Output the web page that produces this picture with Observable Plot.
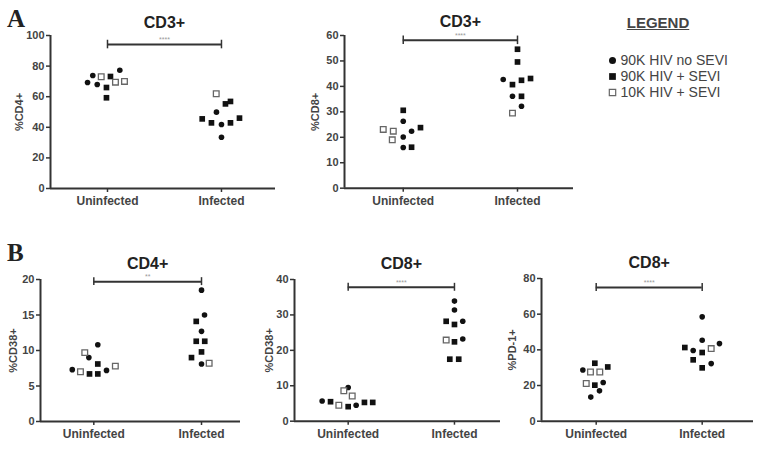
<!DOCTYPE html>
<html><head><meta charset="utf-8">
<script src="https://cdn.jsdelivr.net/npm/d3@7"></script>
<script src="https://cdn.jsdelivr.net/npm/@observablehq/plot@0.6"></script>
<style>
body{margin:0;background:#fff;}
#fig{position:relative;width:762px;height:450px;overflow:hidden;font-family:"Liberation Sans",Arial,sans-serif;background:#fff;}
#fig > *{position:absolute;}
.letter{font-family:"Liberation Serif","Times New Roman",serif;font-weight:bold;font-size:25px;line-height:25px;color:#222;}
.legtitle{font-weight:bold;font-size:15px;color:#444;text-decoration:underline;text-align:center;width:110px;}
</style></head><body><div id="fig"></div>
<script>
const groups = ["Uninfected", "Infected"];
const typeNames = ["90K HIV no SEVI", "90K HIV + SEVI", "10K HIV + SEVI"];
// marker type codes: 0 = filled circle, 1 = filled square, 2 = open square

// A (left): CD3+ / %CD4+
const cd3cd4UninfValues = [69.3, 73.9, 68.0, 73.0, 66.0, 59.3, 73.2, 77.3, 69.5, 70.0];
const cd3cd4UninfTypes  = [0, 0, 0, 2, 1, 1, 1, 0, 2, 2];
const cd3cd4UninfJitter = [-0.175, -0.129, -0.09, -0.055, -0.009, -0.009, 0.026, 0.108, 0.07, 0.149];
const cd3cd4InfValues = [61.9, 55.3, 56.9, 49.9, 45.5, 42.9, 41.8, 42.9, 46.0, 33.5];
const cd3cd4InfTypes  = [2, 1, 1, 0, 1, 1, 0, 1, 1, 0];
const cd3cd4InfJitter = [-0.046, 0.035, 0.079, -0.044, -0.169, -0.088, 0, 0.079, 0.158, 0];

// A (right): CD3+ / %CD8+
const cd3cd8UninfValues = [30.6, 26.3, 23.1, 22.4, 22.4, 23.8, 20.1, 19.0, 16.0, 16.1];
const cd3cd8UninfTypes  = [1, 0, 2, 2, 0, 1, 0, 2, 0, 1];
const cd3cd8UninfJitter = [0, 0, -0.175, -0.087, 0.073, 0.151, 0, -0.096, 0, 0.073];
const cd3cd8InfValues = [54.6, 49.6, 42.7, 40.7, 42.4, 43.1, 36.1, 36.1, 32.2, 29.5];
const cd3cd8InfTypes  = [1, 1, 0, 1, 1, 1, 0, 1, 0, 2];
const cd3cd8InfJitter = [0, 0, -0.125, -0.044, 0.035, 0.114, -0.044, 0.035, 0.035, -0.044];

// B (left): CD4+ / %CD38+
const cd4cd38UninfValues = [7.3, 7.0, 9.7, 9.0, 6.7, 10.8, 8.1, 6.7, 7.2, 7.8];
const cd4cd38UninfTypes  = [0, 2, 2, 0, 1, 0, 1, 1, 0, 2];
const cd4cd38UninfJitter = [-0.2, -0.124, -0.084, -0.046, -0.04, 0.037, 0.037, 0.037, 0.118, 0.2];
const cd4cd38InfValues = [18.5, 15.0, 14.1, 12.7, 11.3, 11.3, 9.8, 9.0, 8.1, 8.2];
const cd4cd38InfTypes  = [0, 0, 1, 0, 1, 1, 1, 1, 0, 2];
const cd4cd38InfJitter = [0, 0.028, -0.049, 0, -0.049, 0.03, 0, -0.093, 0, 0.071];

// B (middle): CD8+ / %CD38+
const cd8cd38UninfValues = [5.7, 5.5, 4.5, 4.1, 4.5, 5.3, 5.3, 9.5, 8.6, 7.1];
const cd8cd38UninfTypes  = [0, 1, 2, 1, 0, 1, 1, 0, 2, 2];
const cd8cd38UninfJitter = [-0.245, -0.166, -0.088, 0, 0.075, 0.153, 0.231, 0, -0.041, 0.038];
const cd8cd38InfValues = [33.9, 31.4, 28.2, 27.3, 28.2, 22.9, 22.4, 23.2, 17.5, 17.5];
const cd8cd38InfTypes  = [0, 0, 1, 1, 0, 2, 1, 0, 1, 1];
const cd8cd38InfJitter = [0, 0, -0.078, 0, 0.078, -0.078, 0, 0.078, -0.044, 0.04];

// B (right): CD8+ / %PD-1+
const cd8pd1UninfValues = [28.7, 27.6, 32.5, 27.6, 30.4, 21.1, 20.2, 21.7, 17.0, 13.5];
const cd8pd1UninfTypes  = [0, 2, 1, 2, 1, 2, 1, 0, 0, 0];
const cd8pd1UninfJitter = [-0.126, -0.054, -0.013, 0.034, 0.109, -0.094, -0.013, 0.066, 0.031, -0.051];
const cd8pd1InfValues = [58.5, 45.4, 41.3, 39.6, 38.5, 40.7, 43.5, 34.4, 29.9, 32.3];
const cd8pd1InfTypes  = [0, 0, 1, 0, 1, 2, 0, 1, 1, 0];
const cd8pd1InfJitter = [0, 0, -0.164, -0.085, 0, 0.085, 0.163, -0.085, 0, 0.085];

const panelTitles = ["CD3+", "CD3+", "CD4+", "CD8+", "CD8+"];
const yLabels = ["%CD4+", "%CD8+", "%CD38+", "%CD38+", "%PD-1+"];
const yMaxes = [100, 60, 20, 40, 80];
const yTickSteps = [20, 10, 5, 10, 20];
const sigLevels = [94.1, 58.1, 19.7, 37.8, 74.9];
const sigStars = ["****", "****", "**", "****", "****"];

function rows(uv, ut, uj, iv, it, ij) {
  const out = [];
  uv.forEach((v, i) => out.push({g: 0, value: v, type: ut[i], jit: uj[i]}));
  iv.forEach((v, i) => out.push({g: 1, value: v, type: it[i], jit: ij[i]}));
  return out;
}
const panelData = [
  rows(cd3cd4UninfValues, cd3cd4UninfTypes, cd3cd4UninfJitter, cd3cd4InfValues, cd3cd4InfTypes, cd3cd4InfJitter),
  rows(cd3cd8UninfValues, cd3cd8UninfTypes, cd3cd8UninfJitter, cd3cd8InfValues, cd3cd8InfTypes, cd3cd8InfJitter),
  rows(cd4cd38UninfValues, cd4cd38UninfTypes, cd4cd38UninfJitter, cd4cd38InfValues, cd4cd38InfTypes, cd4cd38InfJitter),
  rows(cd8cd38UninfValues, cd8cd38UninfTypes, cd8cd38UninfJitter, cd8cd38InfValues, cd8cd38InfTypes, cd8cd38InfJitter),
  rows(cd8pd1UninfValues, cd8pd1UninfTypes, cd8pd1UninfJitter, cd8pd1InfValues, cd8pd1InfTypes, cd8pd1InfJitter)
];

// layout (frame pixel boxes and x-domain padding)
const layout = [
  {l: 50, r: 275, t: 35, b: 188, x0: -0.5, x1: 1.474, lo: 35, td: -19},
  {l: 344, r: 573, t: 35, b: 187.7, x0: -0.514, x1: 1.49, lo: 33, td: -20},
  {l: 40, r: 240, t: 279, b: 421, x0: -0.495, x1: 1.362, lo: 31, td: -22},
  {l: 294, r: 500, t: 279.3, b: 421, x0: -0.505, x1: 1.433, lo: 29, td: -22},
  {l: 541, r: 753, t: 278.3, b: 421, x0: -0.516, x1: 1.484, lo: 33, td: -22}
];

const fig = document.getElementById("fig");
const ML = 48, MR = 6, MT = 40, MB = 30;
const ink = "#222";

layout.forEach((L, k) => {
  const data = panelData[k];
  const ymax = yMaxes[k];
  const cap = ymax * 0.028;
  const sig = sigLevels[k];
  const plot = Plot.plot({
    width: (L.r - L.l) + ML + MR,
    height: (L.b - L.t) + MT + MB,
    marginLeft: ML, marginRight: MR, marginTop: MT, marginBottom: MB,
    style: {background: "none", overflow: "visible", fontFamily: "'Liberation Sans', Arial, sans-serif", fontWeight: "bold", fontSize: "10px", color: "#444"},
    x: {domain: [L.x0, L.x1]},
    y: {domain: [0, ymax]},
    marks: [
      Plot.axisY({ticks: d3.range(0, ymax + 0.001, yTickSteps[k]), tickSize: 4, tickPadding: 2, stroke: "#333", strokeWidth: 1.5,
        label: yLabels[k], labelAnchor: "center", labelArrow: "none", labelOffset: L.lo, fontSize: 11}),
      Plot.axisX({ticks: [0, 1], tickFormat: (i) => groups[i], tickSize: 4, tickPadding: 4, stroke: "#333", strokeWidth: 1.5, label: null, fontSize: 12}),
      Plot.ruleY([0], {stroke: "#333", strokeWidth: 2}),
      Plot.ruleX([L.x0], {stroke: "#333", strokeWidth: 2}),
      Plot.ruleY([sig], {y: (d) => d, x1: () => 0, x2: () => 1, stroke: "#333", strokeWidth: 2}),
      Plot.ruleX([0, 1], {x: (d) => d, y1: () => sig - cap, y2: () => sig + cap, stroke: "#333", strokeWidth: 1.5}),
      Plot.text([sigStars[k]], {x: () => 0.5, y: () => sig, dy: -5, text: (d) => d, fill: "#999", fontSize: 7, fontWeight: "normal"}),
      Plot.text([panelTitles[k]], {x: () => 0.5, frameAnchor: "top", dy: L.td, text: (d) => d, fill: ink, fontSize: 16, fontWeight: "bold"}),
      Plot.dot(data.filter((d) => d.type === 0), {x: (d) => d.g + d.jit, y: "value", symbol: "circle", r: 2.8, fill: "#111", stroke: "none"}),
      Plot.dot(data.filter((d) => d.type === 1), {x: (d) => d.g + d.jit, y: "value", symbol: "square", r: 3.2, fill: "#111", stroke: "none"}),
      Plot.dot(data.filter((d) => d.type === 2), {x: (d) => d.g + d.jit, y: "value", symbol: "square", r: 3.2, fill: "white", stroke: "#666", strokeWidth: 1.3})
    ]
  });
  plot.style.left = (L.l - ML) + "px";
  plot.style.top = (L.t - MT) + "px";
  fig.appendChild(plot);
});

// Legend
const legend = Plot.plot({
  width: 160, height: 56,
  marginLeft: 6, marginRight: 0, marginTop: 0, marginBottom: 0,
  style: {background: "none", overflow: "visible", fontFamily: "'Liberation Sans', Arial, sans-serif"},
  x: {axis: null, domain: [0, 1]},
  y: {type: "point", domain: typeNames, range: [10, 42], padding: 0, axis: null},
  marks: [
    Plot.dot([typeNames[0]], {y: (d) => d, frameAnchor: "left", symbol: "circle", r: 3.5, fill: "#111"}),
    Plot.dot([typeNames[1]], {y: (d) => d, frameAnchor: "left", symbol: "square", r: 3.8, fill: "#111"}),
    Plot.dot([typeNames[2]], {y: (d) => d, frameAnchor: "left", symbol: "square", r: 3.6, fill: "white", stroke: "#666", strokeWidth: 1.2}),
    Plot.text(typeNames, {y: (d) => d, frameAnchor: "left", dx: 8, text: (d) => d, textAnchor: "start", fontSize: 14, fill: "#444"})
  ]
});
legend.style.left = "606px";
legend.style.top = "50px";
fig.appendChild(legend);

const lt = document.createElement("div");
lt.className = "legtitle";
lt.textContent = "LEGEND";
lt.style.left = "603px"; lt.style.top = "14px";
fig.appendChild(lt);

const la = document.createElement("div");
la.className = "letter"; la.textContent = "A";
la.style.left = "7px"; la.style.top = "6px";
fig.appendChild(la);
const lb = document.createElement("div");
lb.className = "letter"; lb.textContent = "B";
lb.style.left = "7px"; lb.style.top = "240px";
fig.appendChild(lb);
</script></body></html>
